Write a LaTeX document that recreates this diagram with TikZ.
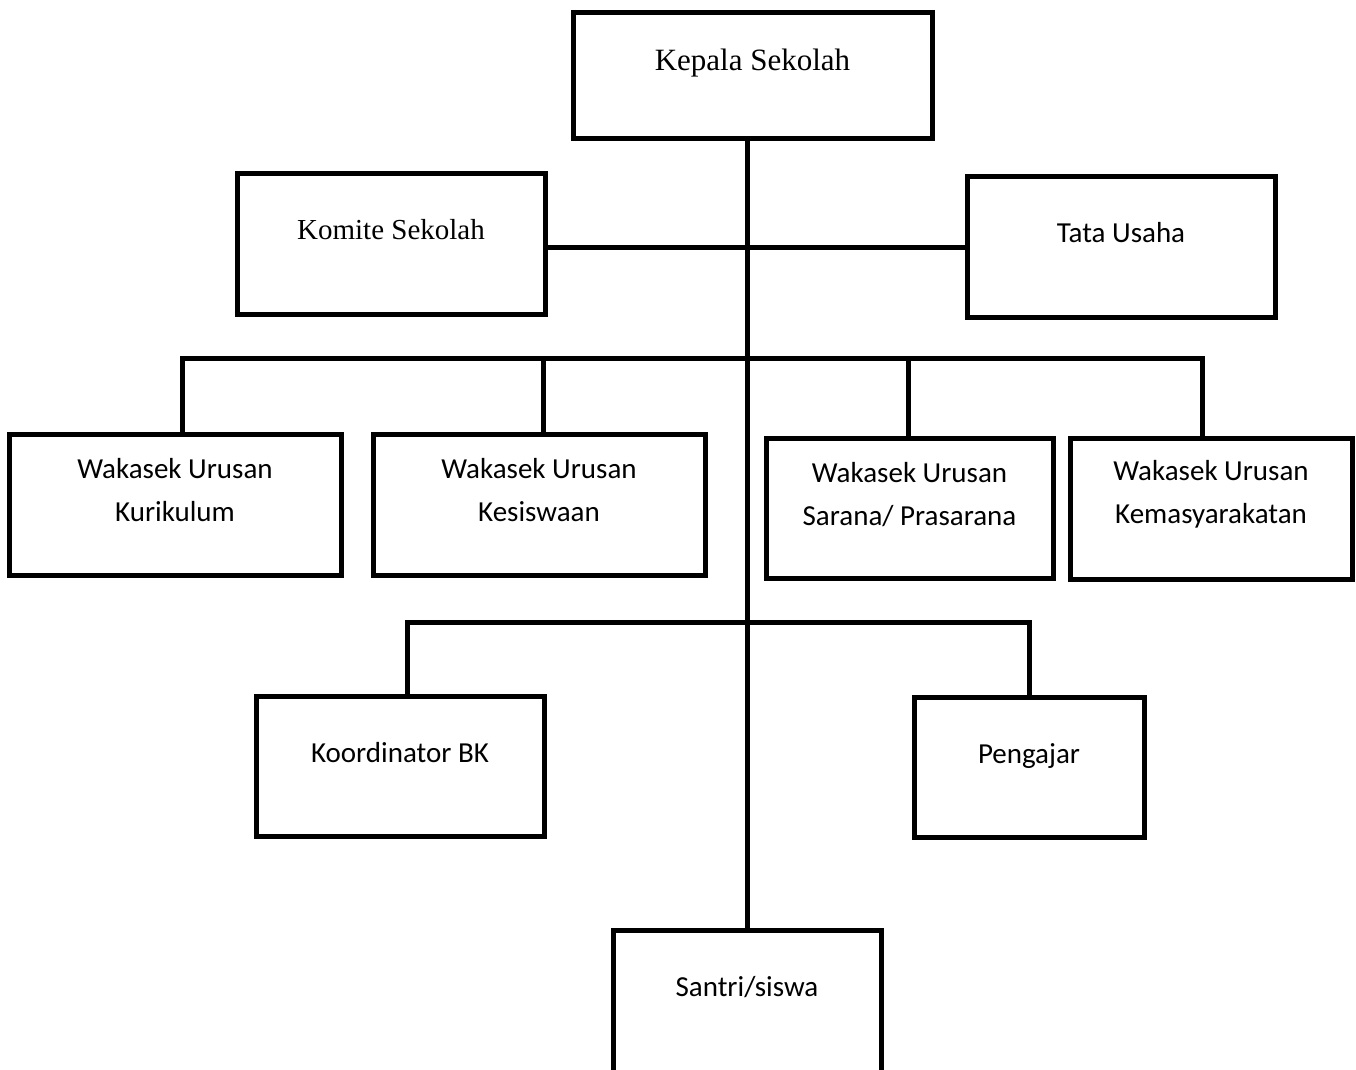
\documentclass[tikz,border=0pt]{standalone}
\usepackage{fontspec}
\setmainfont{Liberation Serif}
\newfontfamily\calibri{Carlito}
\usepackage{tikz}

\begin{document}
\begin{tikzpicture}[x=1pt,y=-1pt,
  box/.style={draw, line width=5pt, inner sep=0pt},
  txt/.style={anchor=center, yshift=-59pt, align=center,
              font=\calibri\fontsize{29}{43}\selectfont},
  txt1/.style={txt, yshift=-3pt, text height=21pt, text depth=7pt},
  serif/.style={font=\fontsize{30}{36}\selectfont},
  conn/.style={line width=5pt}]
\useasboundingbox (0,0) rectangle (1356,1069);
\clip (0,0) rectangle (1356,1069);

% top of the chart
\node[box, minimum width=359, minimum height=126,
      label={[txt,serif,yshift=5pt,font=\fontsize{31}{36}\selectfont]north:Kepala Sekolah}
] (kepala) at (752.5,75) {};
\node[box, minimum width=308, minimum height=141,
      label={[txt,serif,font=\fontsize{29}{36}\selectfont]north:Komite Sekolah}
] (komite) at (391,243.5) {};
\node[box, minimum width=308, minimum height=141,
      label={[txt1]north:Tata Usaha}
] (tata) at (1121,246.5) {};

% wakasek row
\node[box, minimum width=332, minimum height=141,
      label={[txt]north:Wakasek Urusan\\Kurikulum}
] (kurikulum) at (175,504.5) {};
\node[box, minimum width=332, minimum height=141,
      label={[txt]north:Wakasek Urusan\\Kesiswaan}
] (kesiswaan) at (539,504.5) {};
\node[box, minimum width=287, minimum height=140,
      label={[txt]north:Wakasek Urusan\\Sarana/ Prasarana}
] (sarana) at (909.5,508) {};
\node[box, minimum width=282, minimum height=141,
      label={[txt]north:Wakasek Urusan\\Kemasyarakatan}
] (kemasy) at (1211,508.5) {};

% bottom rows
\node[box, minimum width=288, minimum height=140,
      label={[txt1]north:Koordinator BK}
] (koordinator) at (400,766) {};
\node[box, minimum width=230, minimum height=140,
      label={[txt1]north:Pengajar}
] (pengajar) at (1029,767) {};
\node[box, minimum width=268, minimum height=180,
      label={[txt1]north:Santri/siswa}%<-- box runs past the lower edge
] (santri) at (747,1020) {};

% connectors
\coordinate (bus1) at (747,247);
\coordinate (bus2) at (747,358);
\coordinate (bus3) at (747,622);
\draw[conn] (kepala.south -| santri.north) -- (santri.north);
\draw[conn] (komite.east |- bus1) -- (tata.west |- bus1);
\draw[conn] ([xshift=7pt]kurikulum.north) |- (bus2) -| ([xshift=-9pt]kemasy.north);
\draw[conn] ([xshift=4pt]kesiswaan.north) -- ([xshift=4pt]kesiswaan.north |- bus2);
\draw[conn] ([xshift=-1.5pt]sarana.north) -- ([xshift=-1.5pt]sarana.north |- bus2);
\draw[conn] ([xshift=7pt]koordinator.north) |- (bus3) -| (pengajar.north);
\end{tikzpicture}
\end{document}
